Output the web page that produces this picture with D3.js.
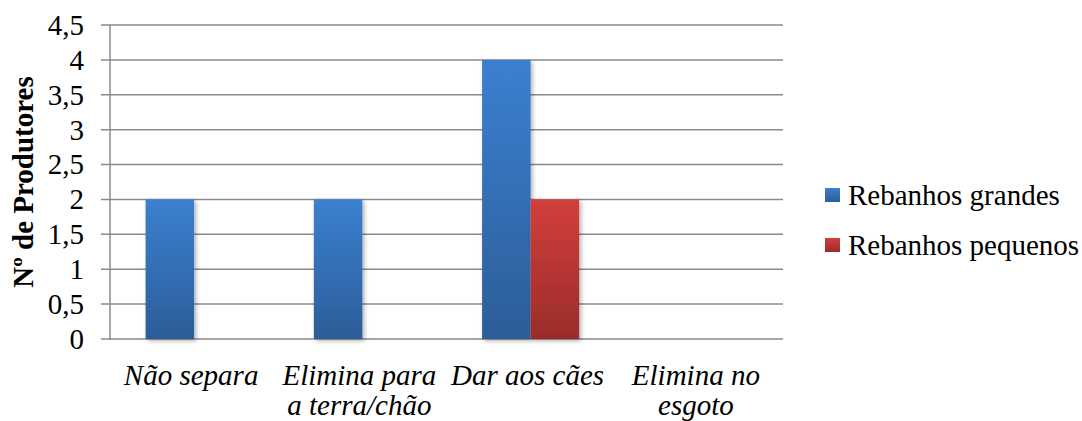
<!DOCTYPE html>
<html><head><meta charset="utf-8">
<script src="https://cdn.jsdelivr.net/npm/d3@7"></script>
<style>body{margin:0;background:#fff}</style>
</head><body>
<svg id="c" width="1082" height="421"></svg>
<script>
const categories = ["Não separa", "Elimina para a terra/chão", "Dar aos cães", "Elimina no esgoto"];
const categoryLines = [["Não separa"], ["Elimina para", "a terra/chão"], ["Dar aos cães"], ["Elimina no", "esgoto"]];
const seriesNames = ["Rebanhos grandes", "Rebanhos pequenos"];
const grandes = [2, 2, 4, 0];
const pequenos = [0, 0, 2, 0];
const yTicks = [0, 0.5, 1, 1.5, 2, 2.5, 3, 3.5, 4, 4.5];
const yTickLabels = ["0", "0,5", "1", "1,5", "2", "2,5", "3", "3,5", "4", "4,5"];
const yTitle = "Nº de Produtores";

const seriesValues = [grandes, pequenos];
const svg = d3.select("#c");
const font = "Liberation Serif";
const L = 110, R = 783, T = 25, B = 339;

const defs = svg.append("defs");
const grads = [["#3b80d0", "#2c5d99"], ["#d23f3c", "#9a2c2a"]];
grads.forEach((g, i) => {
  const lg = defs.append("linearGradient").attr("id", "g" + i).attr("x1", 0).attr("y1", 0).attr("x2", 0).attr("y2", 1);
  lg.append("stop").attr("offset", "0%").attr("stop-color", g[0]);
  lg.append("stop").attr("offset", "100%").attr("stop-color", g[1]);
});
const f = defs.append("filter").attr("id", "sh").attr("x", "-20%").attr("y", "-10%").attr("width", "150%").attr("height", "130%");
f.append("feDropShadow").attr("dx", 2).attr("dy", 2).attr("stdDeviation", 2).attr("flood-color", "#000").attr("flood-opacity", 0.3);

const y = d3.scaleLinear().domain([0, 4.5]).range([B, T]);
const x0 = d3.scaleBand().domain(categories).range([L, R]).paddingInner(0.423).paddingOuter(0.2115);
const x1 = d3.scaleBand().domain(seriesNames).range([0, x0.bandwidth()]);

// gridlines
svg.append("g").selectAll("line").data(yTicks).join("line")
  .attr("x1", L - 9).attr("x2", R).attr("y1", d => y(d)).attr("y2", d => y(d))
  .attr("stroke", "#8a8a8a").attr("stroke-width", 1.5);
svg.append("line").attr("x1", L).attr("x2", L).attr("y1", T).attr("y2", B + 1)
  .attr("stroke", "#8a8a8a").attr("stroke-width", 1.5);

// y tick labels
svg.append("g").selectAll("text").data(yTicks).join("text")
  .attr("x", 84).attr("y", d => y(d)).attr("dy", "0.34em")
  .attr("text-anchor", "end").attr("font-size", 29).style("font-family", font).attr("fill", "#000")
  .text((d, i) => yTickLabels[i]);

// y title
svg.append("text").attr("transform", `translate(33,${(T + B) / 2}) rotate(-90)`)
  .attr("text-anchor", "middle").attr("font-size", 29).style("font-family", font).attr("font-weight", "bold")
  .text(yTitle);

// bars
const groups = svg.append("g").selectAll("g").data(categories).join("g")
  .attr("transform", d => `translate(${x0(d)},0)`);
groups.selectAll("rect").data((d, ci) => seriesNames.map((s, si) => ({ s, si, v: seriesValues[si][ci] })).filter(e => e.v > 0))
  .join("rect")
  .attr("x", d => x1(d.s)).attr("width", x1.bandwidth())
  .attr("y", d => y(d.v)).attr("height", d => y(0) - y(d.v))
  .attr("fill", d => `url(#g${d.si})`).attr("filter", "url(#sh)");

// x labels
const xl = svg.append("g").selectAll("text").data(categories).join("text")
  .attr("x", d => x0(d) + x0.bandwidth() / 2 - 3).attr("y", 385)
  .attr("text-anchor", "middle").attr("font-size", 29).style("font-family", font).attr("font-style", "italic");
xl.selectAll("tspan").data((d, i) => categoryLines[i]).join("tspan")
  .attr("x", function () { return d3.select(this.parentNode).attr("x"); })
  .attr("dy", (d, i) => i === 0 ? 0 : 30).text(d => d);

// legend
const lg = svg.append("g").selectAll("g").data(seriesNames).join("g")
  .attr("transform", (d, i) => `translate(825,${195 + i * 50})`);
lg.append("rect").attr("x", 0).attr("y", -7).attr("width", 15).attr("height", 14)
  .attr("fill", (d, i) => `url(#g${i})`);
lg.append("text").attr("x", 23).attr("y", 0).attr("dy", "0.34em")
  .attr("font-size", 29).style("font-family", font).text(d => d);
</script>
</body></html>
